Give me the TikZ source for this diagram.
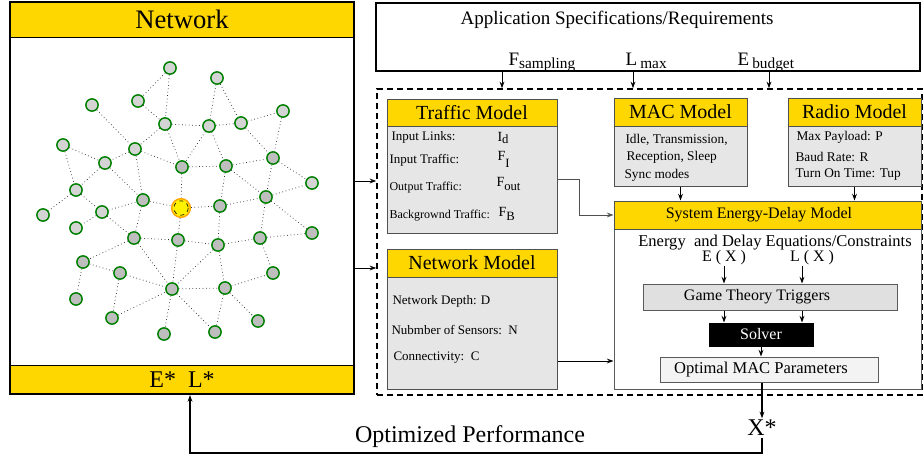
\documentclass[tikz,border=0pt]{standalone}
\usepackage{fontspec}
\setmainfont{Liberation Serif}
\usetikzlibrary{arrows.meta}

\tikzset{every picture/.style={line width=0.75pt}}
\newcommand{\fsz}[1]{\fontsize{#1}{#1}\selectfont}
\newcommand{\lowtxt}[3][-0.5ex]{\raisebox{#1}{\fsz{#2}#3}}

\tikzset{
  sensor/.style={circle, draw={rgb, 255:red, 0; green, 128; blue, 0}, line width=1.1pt, inner sep=0pt, minimum size=9.2pt},
  sensorlt/.style={sensor, fill={rgb, 255:red, 212; green, 212; blue, 212}},
  sensordk/.style={sensor, fill={rgb, 255:red, 190; green, 190; blue, 190}},
  link/.style={dotted, line width=0.55pt, draw={rgb, 255:red, 50; green, 50; blue, 50}},
  gold/.style={fill={rgb, 255:red, 255; green, 215; blue, 0}},
  modelhead/.style={gold, draw={rgb, 255:red, 80; green, 80; blue, 80}, inner sep=0pt, font=\fsz{15}},
  modelbody/.style={fill={rgb, 255:red, 230; green, 230; blue, 230}, draw={rgb, 255:red, 80; green, 80; blue, 80}, inner sep=0pt},
  row/.style={anchor=west, inner sep=0pt},
  conn/.style={-{Stealth[length=5pt,width=3.6pt]}, line width=0.75pt}
}

\begin{document}
\begin{tikzpicture}[x=0.75pt,y=0.75pt,yscale=-1,xscale=1]
	\useasboundingbox (0,0) rectangle (923,457);

	%Network panel
	\node[gold, draw, minimum width=258pt, minimum height=26.25pt, inner sep=0pt, font=\fsz{20}] (nethead) at (182,19.5) {Network};
	\node[gold, draw, minimum width=258pt, minimum height=21.75pt, inner sep=0pt, font=\fsz{18}] (netfoot) at (182,379.5) {E*\ \ L*};
	\node[draw, line width=1.5pt, minimum width=258pt, minimum height=294pt, inner sep=0pt] (netbox) at (182,198) {};

	%Sensors
	\node[sensorlt] (s1) at (170,68) {};
	\node[sensorlt] (s2) at (217,78) {};
	\node[sensorlt] (s3) at (92,105) {};
	\node[sensorlt] (s4) at (138,101) {};
	\node[sensorlt] (s5) at (283,111) {};
	\node[sensorlt] (s6) at (165,124) {};
	\node[sensorlt] (s7) at (209,126) {};
	\node[sensorlt] (s8) at (241,123) {};
	\node[sensorlt] (s9) at (63,145) {};
	\node[sensorlt] (s10) at (135,149) {};
	\node[sensorlt] (s11) at (105,163) {};
	\node[sensordk] (s12) at (182,167) {};
	\node[sensordk] (s13) at (226,166) {};
	\node[sensordk] (s14) at (273,158) {};
	\node[sensorlt] (s15) at (312,183) {};
	\node[sensorlt] (s16) at (76,190) {};
	\node[sensordk] (s17) at (266,197) {};
	\node[sensordk] (s18) at (143,200) {};
	\node[sensordk] (s20) at (220,206) {};
	\node[sensorlt] (s21) at (43,215) {};
	\node[sensorlt] (s22) at (102,212) {};
	\node[sensorlt] (s23) at (76,228) {};
	\node[sensordk] (s24) at (312,233) {};
	\node[sensordk] (s25) at (134,238) {};
	\node[sensordk] (s26) at (178,240) {};
	\node[sensordk] (s27) at (218,245) {};
	\node[sensordk] (s28) at (260,238) {};
	\node[sensordk] (s29) at (83,262) {};
	\node[sensordk] (s30) at (120,273) {};
	\node[sensordk] (s31) at (273,273) {};
	\node[sensordk] (s32) at (172,289) {};
	\node[sensordk] (s33) at (225,288) {};
	\node[sensordk] (s34) at (76,299) {};
	\node[sensordk] (s35) at (112,318) {};
	\node[sensordk] (s36) at (258,321) {};
	\node[sensordk] (s37) at (164,334) {};
	\node[sensordk] (s38) at (215,332) {};
	%Sink
	\node[sensor, fill=yellow, draw={rgb, 255:red, 255; green, 165; blue, 0}, minimum size=14pt] (sink) at (181,208) {};
	\draw[dashed, line width=0.5pt] (sink.center) circle (5.4pt);

	%Links
	\draw[link] (s1)--(s4) (s1)--(s6) (s4)--(s6) (s3)--(s10) (s6)--(s10) (s6)--(s12) (s6)--(s7)
		(s9)--(s11) (s10)--(s11) (s10)--(s12) (s9)--(s16) (s11)--(s16) (s11)--(s18) (s10)--(s18);
	\draw[link] (s12)--(sink) (s2)--(s7) (s2)--(s8) (s7)--(s8) (s8)--(s5) (s5)--(s14) (s8)--(s14)
		(s7)--(s12) (s7)--(s13) (s12)--(s13) (s13)--(s14) (s14)--(s15) (s13)--(s20) (s13)--(s17) (s14)--(s17);
	\draw[link] (sink)--(s20) (s20)--(s17) (s17)--(s15) (s17)--(s24) (s17)--(s28) (s20)--(s27) (sink)--(s26)
		(s26)--(s27) (s27)--(s28) (s28)--(s24) (s28)--(s31) (s26)--(s32) (s27)--(s32) (s27)--(s33);
	\draw[link] (s32)--(s33) (s33)--(s31) (s33)--(s36) (s33)--(s38) (s32)--(s37) (s32)--(s38) (s18)--(sink)
		(s25)--(s26) (s25)--(s32) (s35)--(s32) (s30)--(s32) (s22)--(s18) (s16)--(s21) (s16)--(s22);
	\draw[link] (s22)--(s23) (s22)--(s25) (s18)--(s25) (s25)--(s29) (s29)--(s30) (s29)--(s34) (s30)--(s35);

	%Application box
	\node[draw, line width=1.5pt, minimum width=408pt, minimum height=51pt, inner sep=0pt] (appbox) at (648,37) {};
	\node[font=\fsz{14.25}, inner sep=0pt] (apptitle) at (617,20) {Application Specifications/Requirements};
	\node[anchor=base west, inner sep=0pt, font=\fsz{14.25}] (fsamp) at (508,65) {F\lowtxt[-0.35ex]{11.5}{sampling}};
	\node[anchor=base west, inner sep=0pt, font=\fsz{14.25}] (lmax) at (625,65) {L\,\lowtxt[-0.35ex]{11.5}{max}};
	\node[anchor=base west, inner sep=0pt, font=\fsz{14.25}] (ebud) at (737,65) {E\,\lowtxt[-0.35ex]{11.5}{budget}};

	%Dashed frame
	\node[draw, dash pattern=on 4.5pt off 3pt, line width=1.1pt, minimum width=408.75pt, minimum height=229.5pt, inner sep=0pt] (frame) at (649.5,242) {};
	\coordinate (fsx) at (502,80);
	\coordinate (lmx) at (633,80);
	\coordinate (ebx) at (769,80);
	\draw[conn] (appbox.south -| fsx) -- (frame.north -| fsx);
	\draw[conn] (appbox.south -| lmx) -- (frame.north -| lmx);
	\draw[conn] (appbox.south -| ebx) -- (frame.north -| ebx);

	%Traffic Model
	\node[modelbody, minimum width=127.5pt, minimum height=79.9pt] (trafficbody) at (472,179.75) {};
	\node[modelhead, minimum width=127.5pt, minimum height=20.6pt] (traffichead) at (472,112.75) {Traffic Model};
	\node[row, font=\fsz{9.75}] (tr1) at (391,137) {Input Links:};
	\node[row, font=\fsz{9.75}] (tr2) at (389,160) {Input Traffic:};
	\node[row, font=\fsz{9}] (tr3) at (389,188) {Output Traffic:};
	\node[row, font=\fsz{9}] (tr4) at (389,216) {Backgrownd Traffic:};
	\node[row, font=\fsz{10.5}] (tv1) at (497,138) {I\lowtxt[-0.3ex]{9.5}{d}};
	\node[row, font=\fsz{10.5}] (tv2) at (497,159) {F\lowtxt[-1.1ex]{9.5}{I}};
	\node[row, font=\fsz{10.5}] (tv3) at (496,184) {F\lowtxt[-0.6ex]{9.5}{out}};
	\node[row, font=\fsz{10.5}] (tv4) at (498,214) {F\lowtxt[-0.7ex]{9.5}{B}};

	%MAC Model
	\node[modelbody, minimum width=99.75pt, minimum height=45pt] (macbody) at (680.5,156) {};
	\node[modelhead, minimum width=99.75pt, minimum height=21pt] (machead) at (680.5,112) {MAC Model};
	\node[row, font=\fsz{10}] (mc1) at (625,140) {Idle, Transmission,};
	\node[row, font=\fsz{10}] (mc2) at (626,157) {Reception, Sleep};
	\node[row, font=\fsz{10}] (mc3) at (624,175) {Sync modes};

	%Radio Model
	\node[modelbody, minimum width=99.75pt, minimum height=45pt] (radiobody) at (854.5,156) {};
	\node[modelhead, minimum width=99.75pt, minimum height=21pt] (radiohead) at (854.5,112) {Radio Model};
	\node[row, font=\fsz{10}] (rd1) at (796,137) {Max Payload: P};
	\node[row, font=\fsz{10}] (rd2) at (795,157) {Baud Rate: R};
	\node[row, font=\fsz{10}] (rd3) at (795,175) {Turn On Time: Tup};

	%Network Model
	\node[modelbody, minimum width=127.5pt, minimum height=84pt] (nmbody) at (472,333) {};
	\node[modelhead, minimum width=127.5pt, minimum height=21pt] (nmhead) at (472,263) {Network Model};
	\node[row, font=\fsz{9.75}] (nm1) at (392,301) {Network Depth: D};
	\node[row, font=\fsz{9.75}] (nm2) at (391,330) {Nubmber of Sensors:\ \ N};
	\node[row, font=\fsz{9.75}] (nm3) at (393,358) {Connectivity:\ \ C};

	%System Energy-Delay Model
	\node[draw={rgb, 255:red, 90; green, 90; blue, 90}, fill=white, minimum width=230.25pt, minimum height=120pt, inner sep=0pt] (sysbody) at (767.5,309) {};
	\node[modelhead, font=\fsz{12}, minimum width=230.25pt, minimum height=21pt] (syshead) at (767.5,215) {};
	\node[font=\fsz{12}, inner sep=0pt] (systitle) at (759,215) {System Energy-Delay Model};
	\node[font=\fsz{12.4}, inner sep=0pt] (eqtitle) at (775,243) {Energy\ \ and Delay Equations/Constraints};
	\node[font=\fsz{12}, inner sep=0pt] (ex) at (724,258) {E ( X )};
	\node[font=\fsz{12}, inner sep=0pt] (lx) at (812,258) {L ( X )};
	\node[draw={rgb, 255:red, 90; green, 90; blue, 90}, fill={rgb, 255:red, 224; green, 224; blue, 224}, minimum width=190.5pt, minimum height=19.5pt, inner sep=0pt] (game) at (770,297) {};
	\node[font=\fsz{12}, inner sep=0pt] (gametxt) at (757,297) {Game Theory Triggers};
	\node[draw, fill=black, text=white, font=\fsz{12}, minimum width=78pt, minimum height=17.25pt, inner sep=0pt] (solver) at (761,334.5) {Solver};
	\node[draw={rgb, 255:red, 90; green, 90; blue, 90}, fill={rgb, 255:red, 243; green, 243; blue, 243}, minimum width=163.5pt, minimum height=18.75pt, inner sep=0pt] (optimal) at (769,369.5) {};
	\node[font=\fsz{12.4}, inner sep=0pt] (opttxt) at (761,369.5) {Optimal MAC Parameters};
	\node[font=\fsz{18}, inner sep=1pt] (xstar) at (762,428) {X*};

	%Connectors
	\coordinate (ea) at (724,0);
	\coordinate (la) at (802,0);
	\coordinate (trin) at (377,181);
	\coordinate (nmin) at (377,268);
	\coordinate (trturn) at (579,0);
	\coordinate (nmout) at ([yshift=21pt]nmbody.east);
	\coordinate (fb) at (190,453);
	\draw[conn] (netbox.east |- trin) -- (frame.west |- trin);
	\draw[conn] (netbox.east |- nmin) -- (frame.west |- nmin);
	\draw[conn, draw={rgb, 255:red, 80; green, 80; blue, 80}] (trafficbody.east) -- (trafficbody.east -| trturn) |- (syshead.west);
	\draw[conn] (nmout) -- (nmout -| sysbody.west);
	\draw[conn] (macbody.south) -- (syshead.north -| macbody.south);
	\draw[conn] (radiobody.south) -- (syshead.north -| radiobody.south);
	\draw[conn] (ex.south -| ea) -- (game.north -| ea);
	\draw[conn] (lx.south -| la) -- (game.north -| la);
	\draw[conn] (game.south -| ea) -- (solver.north -| ea);
	\draw[conn] (game.south -| la) -- (solver.north -| la);
	\draw[conn] (solver.south) -- (optimal.north -| solver.south);
	\draw[conn, line width=1.5pt] (optimal.south -| xstar.north) -- (xstar.north);
	\draw[conn, line width=1.5pt] (xstar.south) |- (fb) -- (fb |- netbox.south);
	\node[font=\fsz{18}, inner sep=0pt] (perf) at (470,437) {Optimized Performance};

\end{tikzpicture}
\end{document}
